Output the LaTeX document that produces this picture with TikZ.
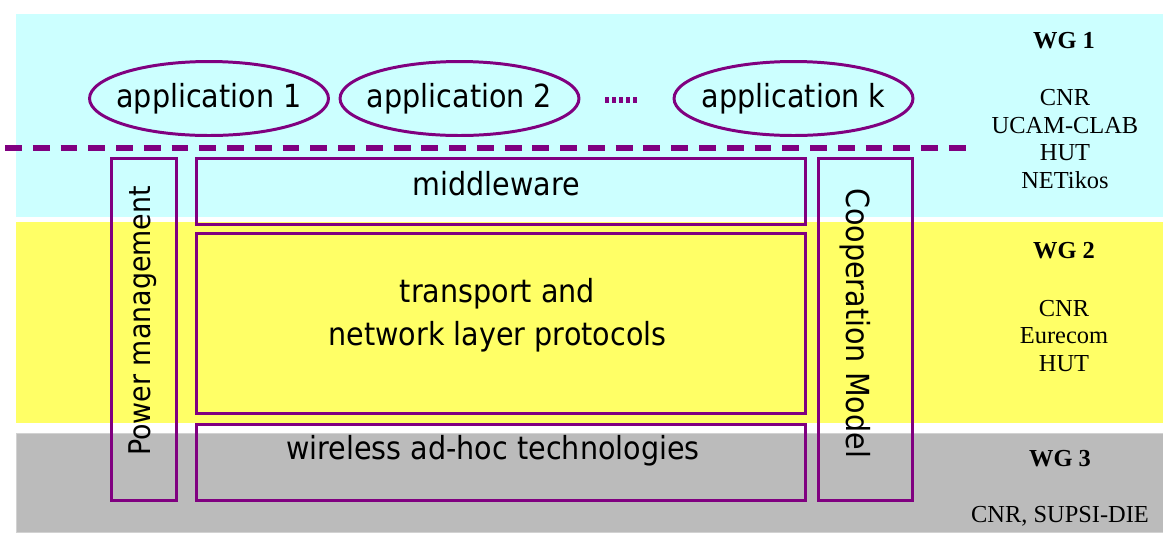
\documentclass[tikz,border=0pt]{standalone}
\usepackage{fontspec}
\setmainfont{Liberation Serif}
\newfontfamily\tahoma[FakeStretch=0.9]{DejaVu Sans}
\usetikzlibrary{shapes.geometric}
\definecolor{wgcyan}{HTML}{CCFFFF}
\definecolor{wgyellow}{HTML}{FFFF66}
\definecolor{wggray}{HTML}{BBBBBB}
\definecolor{layerpurple}{HTML}{800080}

\begin{document}
\begin{tikzpicture}[x=0.02cm,y=-0.02cm,
  layer/.style={draw=layerpurple,line width=1.7pt,rectangle,inner sep=0pt},
  app/.style={draw=layerpurple,line width=1.7pt,ellipse,inner xsep=-0.3cm,
    inner ysep=0pt,minimum width=4.78cm,minimum height=1.48cm,
    font=\tahoma\fontsize{18.1}{24.4}\selectfont},
  lbl/.style={inner sep=0pt,align=center,
    font=\tahoma\fontsize{18.1}{24.4}\selectfont},
  wg/.style={inner sep=0pt,font=\bfseries\fontsize{13.9}{15.6}\selectfont},
  partners/.style={inner sep=0pt,align=center,
    font=\fontsize{13.9}{15.6}\selectfont}]
  \useasboundingbox (0,0) rectangle (1163,532);
  % working group bands
  \fill[wgcyan] (16,14) rectangle (1163,217);
  \fill[wgyellow] (16,222) rectangle (1163,423);
  \filldraw[fill=wggray,draw=gray!35] (16.5,433.5) rectangle (1163,532);
  % applications
  \node[app] (app1) at (209,98.5) {application 1};
  \node[app] (app2) at (459.5,98.5) {application 2};
  \node[app] (appk) at (793.5,98.5) {application k};
  \draw[layerpurple,line width=3.4pt,dash pattern=on 2.3pt off 1.7pt]
    (605,100) -- (640,100);
  \draw[layerpurple,line width=3.2pt,dash pattern=on 9.6pt off 6.2pt]
    (5,148) -- (966,148);
  % protocol stack
  \node[layer,minimum width=1.30cm,minimum height=6.84cm] (power) at (144,329.5) {};
  \node[layer,minimum width=12.18cm,minimum height=1.32cm] (mw) at (501,191.5) {};
  \node[layer,minimum width=12.18cm,minimum height=3.60cm] (transport) at (501,323.5) {};
  \node[layer,minimum width=12.18cm,minimum height=1.52cm] (wireless) at (501,462.5) {};
  \node[layer,minimum width=1.88cm,minimum height=6.84cm] (coop) at (865.5,329.5) {};
  \node[lbl] (mwtxt) at (496.5,184) {middleware};
  \node[lbl] (transporttxt) at (497.5,315) {transport and\\network layer protocols};
  \node[lbl] (wirelesstxt) at (493,451) {wireless ad-hoc technologies};
  \node[lbl,rotate=90,font=\tahoma\fontsize{17}{20}\selectfont] (powertxt) at (143,321) {Power management};
  \node[lbl,rotate=-90] (cooptxt) at (855,323) {Cooperation Model};
  % working groups
  \node[wg] (wg1) at (1064,41) {WG 1};
  \node[partners] (wg1p) at (1065,139) {CNR\\UCAM-CLAB\\HUT\\NETikos};
  \node[wg] (wg2) at (1064,251) {WG 2};
  \node[partners] (wg2p) at (1064,336) {CNR\\Eurecom\\HUT};
  \node[wg] (wg3) at (1060,459) {WG 3};
  \node[partners] (wg3p) at (1060,516) {CNR, SUPSI-DIE};
\end{tikzpicture}
\end{document}
